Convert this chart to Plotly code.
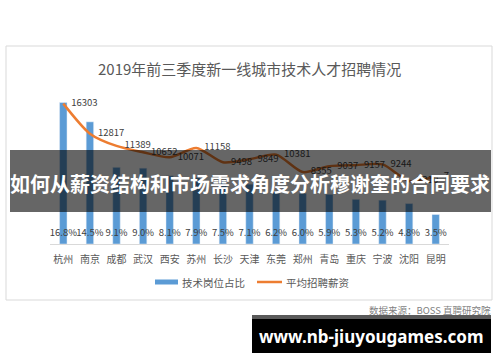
import plotly.graph_objects as go

cities = ["杭州", "南京", "成都", "武汉", "西安", "苏州", "长沙", "天津", "东莞", "郑州", "青岛", "重庆", "宁波", "沈阳", "昆明"]
share_pct = [16.8, 14.5, 9.1, 9.0, 8.1, 7.9, 7.5, 7.1, 6.2, 6.0, 5.9, 5.3, 5.2, 4.8, 3.5]
avg_salary = [16303, 12817, 11389, 10652, 10071, 11158, 9498, 9849, 10381, 8355, 9037, 9157, 9244, 7310, 7859]

title = "2019年前三季度新一线城市技术人才招聘情况"
legend_names = ["技术岗位占比", "平均招聘薪资"]
source_text = "数据来源：BOSS 直聘研究院"
banner_text = "如何从薪资结构和市场需求角度分析穆谢奎的合同要求"
site_text = "www.nb-jiuyougames.com"

W, H = 500, 362
ML, MR, MT, MB = 50, 51, 89, 118
PW, PH = W - ML - MR, H - MT - MB
Y1MAX, Y2MAX = 18.4, 18000

def px(x):
    return (x - ML) / PW

def py(y):
    return (H - MB - y) / PH

FONT = "Noto Sans CJK SC"
idx = list(range(len(cities)))

fig = go.Figure()
fig.add_trace(go.Bar(x=idx, y=share_pct, marker_color="#5b9bd5", width=0.28,
                     name=legend_names[0], showlegend=False, hoverinfo="skip"))
fig.add_trace(go.Scatter(x=idx, y=[Y1MAX * 10 / PH] * len(idx), mode="text",
                         text=[f"{v:.1f}%" for v in share_pct], textposition="middle center",
                         textfont=dict(family=FONT, size=9.5, color="#404040"),
                         showlegend=False, hoverinfo="skip"))
fig.add_trace(go.Scatter(x=idx, y=avg_salary, mode="lines", yaxis="y2",
                         line=dict(color="#ed7d31", width=2.5, shape="spline", smoothing=0.7),
                         name=legend_names[1], showlegend=False, hoverinfo="skip"))
fig.add_trace(go.Scatter(x=[i + 0.3 for i in idx], y=avg_salary, mode="text", yaxis="y2",
                         text=[str(v) for v in avg_salary], textposition="middle right",
                         textfont=dict(family=FONT, size=9.5, color="#404040"),
                         showlegend=False, hoverinfo="skip"))

shapes = [
    # chart frame
    dict(type="rect", xref="paper", yref="paper", x0=px(6), x1=px(492), y0=py(300), y1=py(46),
         line=dict(color="#d9d9d9", width=1), fillcolor="rgba(0,0,0,0)", layer="below"),
    # legend symbols
    dict(type="rect", xref="paper", yref="paper", x0=px(155), x1=px(178), y0=py(284.5), y1=py(279.5),
         line=dict(width=0), fillcolor="#5b9bd5"),
    dict(type="line", xref="paper", yref="paper", x0=px(257), x1=px(282), y0=py(282), y1=py(282),
         line=dict(color="#ed7d31", width=2.5)),
    # dark banner
    dict(type="rect", xref="paper", yref="paper", x0=px(10), x1=px(491), y0=py(212), y1=py(150),
         line=dict(width=0), fillcolor="rgba(0,0,0,0.6)", layer="above"),
    # bottom site banner
    dict(type="rect", xref="paper", yref="paper", x0=px(252), x1=px(491), y0=py(353), y1=py(315),
         line=dict(width=0), fillcolor="#000000", layer="above"),
    dict(type="rect", xref="paper", yref="paper", x0=px(252), x1=px(491), y0=py(319), y1=py(315),
         line=dict(width=0), fillcolor="#5a5a5a", layer="above"),
]

annotations = [
    dict(text=title, xref="paper", yref="paper", x=px(249), y=py(68), showarrow=False,
         xanchor="center", yanchor="middle", font=dict(family=FONT, size=15, color="#595959")),
    dict(text=legend_names[0], xref="paper", yref="paper", x=px(180), y=py(282), showarrow=False,
         xanchor="left", yanchor="middle", font=dict(family=FONT, size=10.5, color="#595959")),
    dict(text=legend_names[1], xref="paper", yref="paper", x=px(284), y=py(282), showarrow=False,
         xanchor="left", yanchor="middle", font=dict(family=FONT, size=10.5, color="#595959")),
    dict(text=source_text, xref="paper", yref="paper", x=px(493), y=py(310), showarrow=False,
         xanchor="right", yanchor="middle", font=dict(family=FONT, size=9.5, color="#7f7f7f")),
    dict(text="<b>" + banner_text + "</b>", xref="paper", yref="paper", x=px(250), y=py(183),
         showarrow=False, xanchor="center", yanchor="middle",
         font=dict(family=FONT, size=20, color="#ffffff")),
    dict(text="<b>" + site_text + "</b>", xref="paper", yref="paper", x=px(371), y=py(336),
         showarrow=False, xanchor="center", yanchor="middle",
         font=dict(family="Noto Sans", size=17, color="#ffffff")),
]

fig.update_layout(
    width=W, height=H,
    margin=dict(l=ML, r=MR, t=MT, b=MB, pad=0),
    paper_bgcolor="#ffffff", plot_bgcolor="#ffffff",
    showlegend=False,
    xaxis=dict(range=[-0.5, len(cities) - 0.5], tickvals=idx, ticktext=cities,
               showgrid=False, zeroline=False, showline=True, linecolor="#d9d9d9", linewidth=1,
               ticks="", ticklabelstandoff=6,
               tickfont=dict(family=FONT, size=10, color="#595959")),
    yaxis=dict(range=[0, Y1MAX], visible=False, showgrid=False, zeroline=False),
    yaxis2=dict(range=[0, Y2MAX], overlaying="y", side="right", visible=False,
                showgrid=False, zeroline=False),
    shapes=shapes,
    annotations=annotations,
)

fig.write_html("out.html", config={"displayModeBar": False},
               post_script="document.body.style.margin='0';document.body.style.overflow='hidden';")
